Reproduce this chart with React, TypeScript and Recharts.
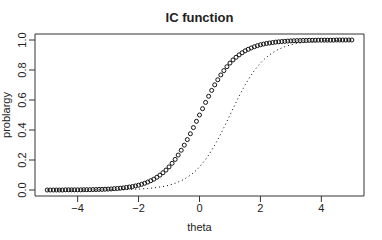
import React from 'react';
import { LineChart, Line, XAxis, YAxis, ReferenceArea } from 'recharts';

// theta grid, -5 to 5 by 0.1
const theta = [
  -5.0, -4.9, -4.8, -4.7, -4.6, -4.5, -4.4, -4.3, -4.2, -4.1,
  -4.0, -3.9, -3.8, -3.7, -3.6, -3.5, -3.4, -3.3, -3.2, -3.1,
  -3.0, -2.9, -2.8, -2.7, -2.6, -2.5, -2.4, -2.3, -2.2, -2.1,
  -2.0, -1.9, -1.8, -1.7, -1.6, -1.5, -1.4, -1.3, -1.2, -1.1,
  -1.0, -0.9, -0.8, -0.7, -0.6, -0.5, -0.4, -0.3, -0.2, -0.1,
  0.0, 0.1, 0.2, 0.3, 0.4, 0.5, 0.6, 0.7, 0.8, 0.9,
  1.0, 1.1, 1.2, 1.3, 1.4, 1.5, 1.6, 1.7, 1.8, 1.9,
  2.0, 2.1, 2.2, 2.3, 2.4, 2.5, 2.6, 2.7, 2.8, 2.9,
  3.0, 3.1, 3.2, 3.3, 3.4, 3.5, 3.6, 3.7, 3.8, 3.9,
  4.0, 4.1, 4.2, 4.3, 4.4, 4.5, 4.6, 4.7, 4.8, 4.9,
  5.0,
];

// open circles
const probCircles = [
  0, 0, 0, 0, 0, 0, 0.001, 0.001, 0.001, 0.001,
  0.001, 0.001, 0.002, 0.002, 0.002, 0.003, 0.003, 0.004, 0.004, 0.005,
  0.006, 0.007, 0.009, 0.010, 0.012, 0.014, 0.017, 0.020, 0.023, 0.027,
  0.032, 0.038, 0.045, 0.053, 0.062, 0.072, 0.085, 0.099, 0.115, 0.133,
  0.154, 0.178, 0.204, 0.233, 0.265, 0.299, 0.336, 0.375, 0.416, 0.458,
  0.5, 0.542, 0.584, 0.625, 0.664, 0.701, 0.735, 0.767, 0.796, 0.822,
  0.846, 0.867, 0.885, 0.901, 0.915, 0.928, 0.938, 0.947, 0.955, 0.962,
  0.968, 0.973, 0.977, 0.980, 0.983, 0.986, 0.988, 0.990, 0.991, 0.993,
  0.994, 0.995, 0.996, 0.996, 0.997, 0.997, 0.998, 0.998, 0.998, 0.999,
  0.999, 0.999, 0.999, 0.999, 0.999, 1, 1, 1, 1, 1,
  1,
];

// dotted curve
const probDotted = [
  0, 0, 0, 0, 0, 0, 0, 0, 0, 0,
  0, 0, 0, 0, 0, 0, 0.001, 0.001, 0.001, 0.001,
  0.001, 0.001, 0.002, 0.002, 0.002, 0.003, 0.003, 0.004, 0.004, 0.005,
  0.006, 0.007, 0.009, 0.010, 0.012, 0.014, 0.017, 0.020, 0.023, 0.027,
  0.032, 0.038, 0.045, 0.053, 0.062, 0.072, 0.085, 0.099, 0.115, 0.133,
  0.154, 0.178, 0.204, 0.233, 0.265, 0.299, 0.336, 0.375, 0.416, 0.458,
  0.5, 0.542, 0.584, 0.625, 0.664, 0.701, 0.735, 0.767, 0.796, 0.822,
  0.846, 0.867, 0.885, 0.901, 0.915, 0.928, 0.938, 0.947, 0.955, 0.962,
  0.968, 0.973, 0.977, 0.980, 0.983, 0.986, 0.988, 0.990, 0.991, 0.993,
  0.994, 0.995, 0.996, 0.996, 0.997, 0.997, 0.998, 0.998, 0.998, 0.999,
  0.999,
];

const xTicks = [-4, -2, 0, 2, 4];
const yTicks = [0, 0.2, 0.4, 0.6, 0.8, 1.0];

const FONT = '"Liberation Sans", Arial, Helvetica, sans-serif';
const INK = '#222';

const data = theta.map((t, i) => ({ theta: t, p: probCircles[i], q: probDotted[i] }));

const YTick = (props: any) => {
  const { x, y, payload } = props;
  return (
    <text
      x={x}
      y={y}
      transform={`rotate(-90, ${x}, ${y})`}
      textAnchor="middle"
      fontSize={11}
      fontFamily={FONT}
      fill={INK}
    >
      {Number(payload.value).toFixed(1)}
    </text>
  );
};

export default function App() {
  return (
    <div style={{ position: 'absolute', left: 0, top: 0, width: 382, height: 240, background: '#fff' }}>
      <div
        style={{
          position: 'absolute',
          left: 35,
          width: 329,
          top: 10,
          textAlign: 'center',
          fontFamily: FONT,
          fontWeight: 'bold',
          fontSize: 13,
          lineHeight: '16px',
          color: INK,
        }}
      >
        IC function
      </div>
      <LineChart width={382} height={240} data={data} margin={{ top: 34, right: 18, bottom: 0, left: 0 }}>
        <XAxis
          dataKey="theta"
          type="number"
          domain={[-5.4, 5.4]}
          ticks={xTicks}
          axisLine={false}
          tickLine={{ stroke: '#333' }}
          tickSize={6}
          tickMargin={2}
          height={44}
          tick={{ fontSize: 11, fontFamily: FONT, fill: INK }}
          tickFormatter={(v: number) => String(v).replace('-', '\u2212')}
          label={{ value: 'theta', position: 'insideBottom', offset: 9, fontSize: 11, fontFamily: FONT, fill: INK }}
        />
        <YAxis
          type="number"
          domain={[-0.04, 1.04]}
          ticks={yTicks}
          axisLine={false}
          tickLine={{ stroke: '#333' }}
          tickSize={6}
          tickMargin={3}
          width={35}
          tick={<YTick />}
          label={{
            value: 'problargy',
            angle: -90,
            position: 'insideLeft',
            offset: 6,
            style: { textAnchor: 'middle', fontSize: 11, fontFamily: FONT, fill: INK },
          }}
        />
        <ReferenceArea x1={-5.4} x2={5.4} y1={-0.04} y2={1.04} fill="none" stroke="#333" strokeWidth={1} fillOpacity={0} />
        <Line
          dataKey="q"
          type="linear"
          stroke="#000"
          strokeWidth={1}
          strokeDasharray="1 3"
          dot={false}
          activeDot={false}
          isAnimationActive={false}
        />
        <Line
          dataKey="p"
          type="linear"
          stroke="none"
          dot={{ r: 2, stroke: '#111', strokeWidth: 1, fill: 'none' }}
          activeDot={false}
          isAnimationActive={false}
        />
      </LineChart>
    </div>
  );
}
